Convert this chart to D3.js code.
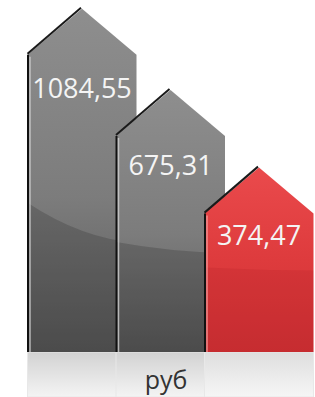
<!DOCTYPE html>
<html lang="ru">
<head>
    <meta charset="UTF-8">
    <title>руб</title>
    <script src="https://d3js.org/d3.v7.min.js"></script>
    <style>
        body { margin: 0; background: #fff; }
        text { font-family: 'Open Sans', sans-serif; }
    </style>
</head>
<body>

<script>
    const width  = 315;
    const height = 397;
    const base = 352;

    // data
    const categories = ["a", "b", "c"];
    const values = [1084.55, 675.31, 374.47];
    const labels = ["1084,55", "675,31", "374,47"];
    const unit = "руб";

    const barW = 109;
    const roof = 46;
    const glossOff = [[148, 188], [106, 117], [54, 57]];

    const x = d3.scalePoint()
                .domain(categories)
                .range([82, 259]);

    const y = d3.scaleSqrt()
                .domain([0, 1100])
                .range([394, 6]);

    const svg = d3.select("body")
                  .append("svg").attr("width", width).attr("height", height);

    const defs = svg.append("defs");

    function grad(id, stops) {
        const g = defs.append("linearGradient").attr("id", id)
                .attr("x1", 0).attr("y1", 0).attr("x2", 0).attr("y2", 1);
        stops.forEach(s => g.append("stop").attr("offset", s[0]).attr("stop-color", s[1]));
    }
    grad("gray", [[0, "#8e8e8e"], [0.55, "#7c7c7c"], [1, "#585858"]]);
    grad("red",  [[0, "#ea4a4c"], [0.5, "#de3b3d"], [1, "#cc3034"]]);
    grad("refl", [[0, "#d2d2d2"], [1, "#f4f4f4"]]);
    grad("reflRed", [[0, "#dedede"], [1, "#f6f6f6"]]);

    // floor reflection
    svg.selectAll(".refl").data(categories).join("rect")
        .attr("x", d => x(d) - barW / 2)
        .attr("y", base)
        .attr("width", barW)
        .attr("height", height - base)
        .attr("fill", (d, i) => i === 2 ? "url(#reflRed)" : "url(#refl)")
        .attr("stroke", "#e8e8e8")
        .attr("stroke-width", 1);

    function house(d, i) {
        const cx = x(d), l = cx - barW / 2, r = cx + barW / 2;
        const top = y(values[i]);
        return [[l, base], [l, top + roof], [cx, top], [r, top + roof], [r, base]];
    }

    const bars = svg.selectAll(".bar").data(categories).join("g");

    bars.each(function (d, i) {
        const g = d3.select(this);
        const pts = house(d, i);
        const l = pts[0][0], r = pts[4][0];
        const sh = pts[1][1];
        const clipId = "clip" + i;

        defs.append("clipPath").attr("id", clipId)
            .append("path").attr("d", d3.line()(pts) + "Z");

        // body
        g.append("path")
            .attr("d", d3.line()(pts) + "Z")
            .attr("fill", i === 2 ? "url(#red)" : "url(#gray)");

        // darker lower part under gloss line
        const gy = glossOff[i];
        g.append("path")
            .attr("clip-path", "url(#" + clipId + ")")
            .attr("d", "M" + l + "," + (sh + gy[0]) +
                       "Q" + ((l + r) / 2) + "," + (sh + gy[0] + (gy[1] - gy[0]) * 0.9) +
                       " " + r + "," + (sh + gy[1]) +
                       "L" + r + "," + base + "L" + l + "," + base + "Z")
            .attr("fill", i === 2 ? "#b01c22" : "#222")
            .attr("opacity", i === 2 ? 0.2 : 0.22);

        // left edge shadow + highlight
        g.append("line")
            .attr("x1", l + 0.5).attr("x2", l + 0.5)
            .attr("y1", sh).attr("y2", base)
            .attr("stroke", "#111").attr("stroke-width", 2);
        g.append("line")
            .attr("x1", l + 2.5).attr("x2", l + 2.5)
            .attr("y1", sh + 2).attr("y2", base)
            .attr("stroke", i === 2 ? "#f7a0a0" : "#d0d0d0").attr("stroke-width", 1.5)
            .attr("opacity", 0.8);

        // roof edge shadow
        g.append("path")
            .attr("d", d3.line()([[pts[1][0], pts[1][1] - 1], [pts[2][0] - 1, pts[2][1] - 1]]))
            .attr("stroke", "#1a1a1a").attr("stroke-width", 2).attr("fill", "none");
    });

    // value labels
    svg.selectAll(".lbl").data(categories).join("text")
        .text((d, i) => labels[i])
        .attr("x", d => x(d))
        .attr("y", (d, i) => y(values[i]) + [89, 85, 77][i])
        .attr("text-anchor", "middle")
        .attr("fill", "#f4f4f4")
        .style("font-size", "27px");

    svg.append("text")
        .text(unit)
        .attr("x", 166)
        .attr("y", 389)
        .attr("text-anchor", "middle")
        .attr("fill", "#333")
        .style("font-size", "25px");
</script>

</body>
</html>
